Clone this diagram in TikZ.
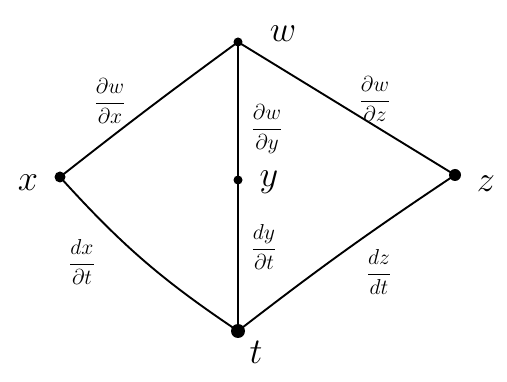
\documentclass[tikz,border=0pt]{standalone}
\usepackage{graphicx}
\newcommand{\vtxname}[1]{\scalebox{2.1}{\LARGE$#1$}}
\newcommand{\edgefrac}[2]{\scalebox{1.5}{\Large$\displaystyle\frac{#1}{#2}$}}
\begin{document}
\begin{tikzpicture}[x=1pt,y=-1pt,
  dot/.style={circle,fill=black,inner sep=0pt,minimum size=#1},
  dot/.default=8pt,
  edge/.style={line width=1.9pt,line cap=round},
  vname/.style={inner sep=0pt},
  dlabel/.style={inner sep=0pt}]
\useasboundingbox (0,0) rectangle (507,382);
\fill[white] (0,0) rectangle (507,382);
% vertices
\node[dot=9pt] (w) at (238,42) {};
\node[dot=11pt] (x) at (60,177) {};
\node[dot=9pt] (y) at (238,180) {};
\node[dot=12pt] (z) at (455,175) {};
\node[dot=14pt] (t) at (238,331) {};
% vertex names
\node[vname] (wl) at (283,34) {\vtxname{w}};
\node[vname] (xl) at (28,183) {\vtxname{x}};
\node[vname] (yl) at (269,182) {\vtxname{y}};
\node[vname] (zl) at (486,184) {\vtxname{z}};
\node[vname] (tl) at (256,352) {\vtxname{t}};
% connectors
\draw[edge] (w.center) to[bend right=1] (x.center);
\draw[edge,line width=2.4pt] (w.center) -- (y.center);
\draw[edge,line width=2.4pt] (y.center) -- (t.center);
\draw[edge] (w.center) -- (z.center);
\draw[edge] (x.center) to[bend right=7] (t.center);
\draw[edge] (t.center) to[bend left=2] (z.center);
% edge labels
\node[dlabel] (lwx) at (110,101) {\edgefrac{\partial w}{\partial x}};
\node[dlabel] (lwy) at (267,129) {\edgefrac{\partial w}{\partial y}};
\node[dlabel] (lwz) at (375,99) {\edgefrac{\partial w}{\partial z}};
\node[dlabel] (lxt) at (82,262) {\edgefrac{dx}{\partial t}};
\node[dlabel] (lyt) at (264,247) {\edgefrac{dy}{\partial t}};
\node[dlabel] (lzt) at (379,272) {\edgefrac{dz}{dt}};
\end{tikzpicture}
\end{document}
